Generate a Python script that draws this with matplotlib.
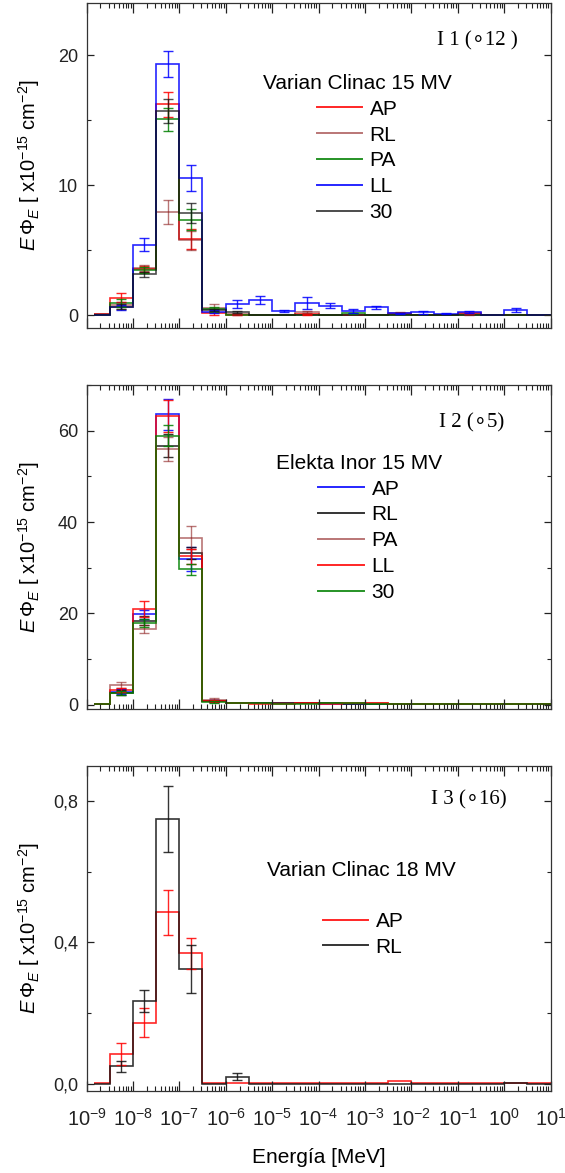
import numpy as np
import matplotlib
matplotlib.use("Agg")
import matplotlib.pyplot as plt
from matplotlib.lines import Line2D
from matplotlib.ticker import LogLocator, MultipleLocator, NullFormatter, FixedLocator, FixedFormatter

plt.rcParams['font.family'] = ['Liberation Sans', 'DejaVu Sans']
plt.rcParams['mathtext.fontset'] = 'custom'
plt.rcParams['mathtext.rm'] = 'Liberation Sans'
plt.rcParams['mathtext.it'] = 'Liberation Sans:italic'
plt.rcParams['mathtext.bf'] = 'Liberation Sans:bold'

# Energy bin edges [MeV] (half-decade bins)
energy_edges = [1.45e-9, 3.16e-9, 1.0e-8, 3.16e-8, 1.0e-7, 3.16e-7, 1.0e-6, 3.16e-6,
                1.0e-5, 3.16e-5, 1.0e-4, 3.16e-4, 1.0e-3, 3.16e-3, 1.0e-2, 3.16e-2,
                1.0e-1, 3.16e-1, 1.0, 3.16, 10.0]

# ---- I1: Varian Clinac 15 MV ----
v15_labels = ["AP", "RL", "PA", "LL", "30"]
v15_AP = [0.05, 1.34, 3.53, 16.2, 5.85, 0.13, 0.03, 0.02, 0.03, 0.05, 0.02, 0.02, 0.02, 0.05, 0.03, 0.02, 0.13, 0.03, 0.02, 0.02]
v15_RL = [0.05, 0.75, 3.60, 7.9, 5.75, 0.56, 0.05, 0.03, 0.03, 0.20, 0.03, 0.03, 0.03, 0.18, 0.03, 0.03, 0.05, 0.03, 0.02, 0.02]
v15_PA = [0.03, 0.95, 3.48, 15.05, 7.32, 0.44, 0.03, 0.02, 0.02, 0.03, 0.02, 0.13, 0.02, 0.02, 0.02, 0.02, 0.03, 0.02, 0.02, 0.02]
v15_LL = [0.02, 0.60, 5.39, 19.3, 10.55, 0.26, 0.82, 1.15, 0.33, 0.90, 0.72, 0.30, 0.60, 0.13, 0.20, 0.10, 0.20, 0.03, 0.38, 0.02]
v15_30 = [0.03, 0.64, 3.14, 15.7, 7.84, 0.38, 0.20, 0.02, 0.02, 0.03, 0.02, 0.02, 0.02, 0.03, 0.02, 0.02, 0.03, 0.02, 0.02, 0.02]
v15_AP_err = [0, 0.33, 0.25, 0.95, 0.78, 0.10, 0.05, 0, 0, 0.05, 0, 0, 0, 0, 0, 0, 0.05, 0, 0, 0]
v15_RL_err = [0, 0.25, 0.25, 0.93, 0.75, 0.30, 0.05, 0, 0, 0.08, 0, 0, 0, 0.05, 0, 0, 0.05, 0, 0, 0]
v15_PA_err = [0, 0.30, 0.22, 0.90, 0.80, 0.20, 0, 0, 0, 0, 0, 0.05, 0, 0, 0, 0, 0, 0, 0, 0]
v15_LL_err = [0, 0.20, 0.50, 1.00, 0.98, 0.10, 0.30, 0.30, 0.08, 0.45, 0.20, 0.15, 0.13, 0.05, 0.10, 0.05, 0.08, 0, 0.15, 0]
v15_30_err = [0, 0.20, 0.20, 0.90, 0.80, 0.10, 0.08, 0, 0, 0, 0, 0, 0, 0, 0, 0, 0, 0, 0, 0]

# ---- I2: Elekta Inor 15 MV ----
e15_labels = ["AP", "RL", "PA", "LL", "30"]
e15_AP = [0.3, 2.9, 19.8, 63.6, 31.9, 0.8, 0.5, 0.5, 0.4, 0.4, 0.3, 0.3, 0.3, 0.3, 0.3, 0.2, 0.2, 0.2, 0.2, 0.1]
e15_RL = [0.3, 2.7, 18.4, 56.7, 33.3, 0.8, 0.4, 0.4, 0.4, 0.4, 0.4, 0.3, 0.3, 0.3, 0.3, 0.3, 0.2, 0.2, 0.2, 0.2]
e15_PA = [0.3, 4.3, 16.6, 56.0, 36.6, 1.1, 0.5, 0.4, 0.5, 0.5, 0.4, 0.5, 0.4, 0.3, 0.3, 0.3, 0.2, 0.2, 0.2, 0.2]
e15_LL = [0.3, 3.3, 21.0, 63.2, 32.5, 0.9, 0.4, 0.2, 0.3, 0.4, 0.3, 0.5, 0.4, 0.3, 0.3, 0.2, 0.2, 0.3, 0.2, 0.2]
e15_30 = [0.3, 2.6, 18.0, 58.9, 29.7, 0.7, 0.4, 0.4, 0.3, 0.3, 0.4, 0.4, 0.3, 0.3, 0.2, 0.2, 0.2, 0.2, 0.2, 0.2]
e15_AP_err = [0, 0.5, 1.0, 3.4, 2.7, 0.2, 0, 0, 0, 0, 0, 0, 0, 0, 0, 0, 0, 0, 0, 0]
e15_RL_err = [0, 0.5, 1.0, 2.5, 1.3, 0.2, 0, 0, 0, 0, 0, 0, 0, 0, 0, 0, 0, 0, 0, 0]
e15_PA_err = [0, 0.6, 0.8, 2.6, 2.5, 0.3, 0, 0, 0, 0, 0, 0, 0, 0, 0, 0, 0, 0, 0, 0]
e15_LL_err = [0, 0.5, 1.7, 3.5, 1.6, 0.2, 0, 0, 0, 0, 0, 0, 0, 0, 0, 0, 0, 0, 0, 0]
e15_30_err = [0, 0.4, 0.9, 2.3, 1.2, 0.2, 0, 0, 0, 0, 0, 0, 0, 0, 0, 0, 0, 0, 0, 0]

# ---- I3: Varian Clinac 18 MV ----
v18_labels = ["AP", "RL"]
v18_AP = [0.003, 0.084, 0.173, 0.486, 0.369, 0.002, 0.002, 0.003, 0.002, 0.002, 0.002, 0.002, 0.002, 0.007, 0.002, 0.002, 0.002, 0.002, 0.002, 0.002]
v18_RL = [0.0, 0.049, 0.233, 0.750, 0.325, 0.0, 0.019, 0.0, 0.0, 0.0, 0.0, 0.0, 0.0, 0.0, 0.0, 0.0, 0.0, 0.0, 0.003, 0.0]
v18_AP_err = [0, 0.032, 0.040, 0.064, 0.043, 0, 0, 0, 0, 0, 0, 0, 0, 0, 0, 0, 0, 0, 0, 0]
v18_RL_err = [0, 0.016, 0.031, 0.093, 0.068, 0, 0.010, 0, 0, 0, 0, 0, 0, 0, 0, 0, 0, 0, 0, 0]

edges = np.array(energy_edges)
centers = np.sqrt(edges[:-1] * edges[1:])

W, H = 565, 1173
fig = plt.figure(figsize=(W / 100, H / 100), dpi=100)

left = 86.5 / W
width = 464 / W


def make_axes(top_px, bottom_px):
    return fig.add_axes([left, 1 - bottom_px / H, width, (bottom_px - top_px) / H])


def draw_series(ax, vals, errs, color, alpha):
    vals = np.asarray(vals, float)
    errs = np.asarray(errs, float)
    ax.stairs(vals, edges, baseline=None, color=color, lw=1.2, alpha=alpha)
    m = errs > 0
    ax.errorbar(centers[m], vals[m], yerr=errs[m], fmt='none', ecolor=color,
                elinewidth=1.0, capsize=3.3, capthick=1.0, alpha=alpha)


def style_axes(ax, ylim, yticks, ylabels, yminor, show_x):
    ax.set_xscale('log')
    ax.set_xlim(1e-9, 10)
    ax.set_ylim(*ylim)
    ax.xaxis.set_major_locator(LogLocator(base=10, numticks=20))
    ax.xaxis.set_minor_locator(LogLocator(base=10, subs=np.arange(2, 10), numticks=20))
    ax.xaxis.set_minor_formatter(NullFormatter())
    if not show_x:
        ax.xaxis.set_major_formatter(NullFormatter())
    ax.yaxis.set_major_locator(FixedLocator(yticks))
    ax.yaxis.set_major_formatter(FixedFormatter(ylabels))
    ax.yaxis.set_minor_locator(MultipleLocator(yminor))
    ax.tick_params(which='both', direction='in', top=True, right=True, labelsize=13, colors='#222222')
    ax.tick_params(axis='x', which='major', length=7.2, width=0.9, pad=12, labelsize=14.5)
    ax.tick_params(axis='x', which='minor', length=3.6, width=0.8)
    ax.tick_params(axis='y', which='major', length=5, width=0.9, pad=6)
    ax.tick_params(axis='y', which='minor', length=3, width=0.8)
    for s in ax.spines.values():
        s.set_linewidth(0.9)
        s.set_color('#333333')
    ax.set_ylabel(r"$E\,\Phi_E$ [ x10$^{-15}$ cm$^{-2}$]", fontsize=14.5)
    ax.yaxis.set_label_coords(-0.095, 0.5)


def add_legend(ax, colors, labels, title, xy):
    handles = [Line2D([], [], color=c, lw=1.4, alpha=a) for c, a in colors]
    leg = ax.legend(handles, labels, title=title, loc='center', bbox_to_anchor=xy,
                    frameon=False, fontsize=15, title_fontsize=15, handlelength=2.2,
                    handletextpad=0.35, labelspacing=0.33, borderpad=0, borderaxespad=0)
    return leg


serif = ['Liberation Serif', 'DejaVu Sans']
brown = '#8b1a1a'

# Panel I1
ax1 = make_axes(3, 328)
c1 = [('#ff0000', 0.85), (brown, 0.6), ('#008000', 0.85), ('#0000ff', 0.85), ('#111111', 0.75)]
for vals, errs, (c, a) in zip([v15_AP, v15_RL, v15_PA, v15_LL, v15_30],
                              [v15_AP_err, v15_RL_err, v15_PA_err, v15_LL_err, v15_30_err], c1):
    draw_series(ax1, vals, errs, c, a)
style_axes(ax1, (-1, 24), [0, 10, 20], ["0", "10", "20"], 5, False)
add_legend(ax1, c1, v15_labels, "Varian Clinac 15 MV", (0.583, 0.554))
ax1.text(0.755, 0.884, "I 1 (\u221812 )", transform=ax1.transAxes, fontsize=15,
         family=serif, ha='left', va='center')

# Panel I2
ax2 = make_axes(385, 709)
c2 = [('#0000ff', 0.85), ('#111111', 0.85), (brown, 0.6), ('#ff0000', 0.85), ('#008000', 0.85)]
for vals, errs, (c, a) in zip([e15_AP, e15_RL, e15_PA, e15_LL, e15_30],
                              [e15_AP_err, e15_RL_err, e15_PA_err, e15_LL_err, e15_30_err], c2):
    draw_series(ax2, vals, errs, c, a)
style_axes(ax2, (-0.9, 70), [0, 20, 40, 60], ["0", "20", "40", "60"], 10, False)
add_legend(ax2, c2, e15_labels, "Elekta Inor 15 MV", (0.587, 0.559))
ax2.text(0.760, 0.884, "I 2 (\u22185)", transform=ax2.transAxes, fontsize=15,
         family=serif, ha='left', va='center')

# Panel I3
ax3 = make_axes(766, 1091)
c3 = [('#ff0000', 0.85), ('#111111', 0.85)]
for vals, errs, (c, a) in zip([v18_AP, v18_RL], [v18_AP_err, v18_RL_err], c3):
    draw_series(ax3, vals, errs, c, a)
style_axes(ax3, (-0.021, 0.9), [0.0, 0.4, 0.8], ["0,0", "0,4", "0,8"], 0.2, True)
add_legend(ax3, c3, v18_labels, None, (0.596, 0.482))
ax3.text(0.592, 0.680, "Varian Clinac 18 MV", transform=ax3.transAxes, fontsize=15,
         ha='center', va='center')
ax3.text(0.742, 0.895, "I 3 (\u221816)", transform=ax3.transAxes, fontsize=15,
         family=serif, ha='left', va='center')
ax3.set_xlabel("Energía [MeV]", fontsize=15)
ax3.xaxis.set_label_coords(0.5, -0.175)

fig.savefig("out.png", dpi=100)
